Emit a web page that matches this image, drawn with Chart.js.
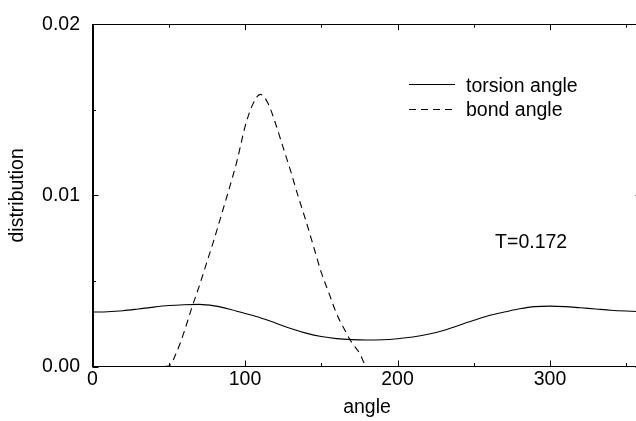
<!DOCTYPE html>
<html><head><meta charset="utf-8">
<script src="https://cdn.jsdelivr.net/npm/chart.js@4.4.1/dist/chart.umd.min.js"></script>
<style>
html,body{margin:0;padding:0;background:#fff;overflow:hidden;width:636px;height:421px}
#wrap{width:636px;height:421px;overflow:hidden;position:relative}
canvas{display:block}
</style>
</head><body><div id="wrap"><canvas id="c" width="646" height="421"></canvas></div>
<script>
// ---- data ----
const torsionAngles = [0,10,20,30,40,50,60,70,80,90,100,110,120,130,140,150,160,170,180,190,200,210,220,230,240,250,260,270,280,290,300,310,320,330,340,350,360];
const torsionValues = [0.00318,0.00320,0.00326,0.00336,0.00347,0.00356,0.00361,0.00363,0.00354,0.00335,0.00310,0.00285,0.00254,0.00222,0.00195,0.00175,0.00163,0.00157,0.00155,0.00156,0.00162,0.00172,0.00188,0.00210,0.00240,0.00270,0.00298,0.00318,0.00337,0.00350,0.00353,0.00350,0.00343,0.00336,0.00329,0.00324,0.00320];
const bondAngles = [0,45,50,55,60,65,70,75,80,85,90,95,100,105,110,115,120,125,130,135,140,145,150,155,160,165,170,175,180,185,360];
const bondValues = [0,0,0.00002,0.0008,0.0020,0.0034,0.0047,0.0061,0.0075,0.0090,0.0105,0.0121,0.0140,0.0153,0.0159,0.0154,0.0142,0.0128,0.0114,0.0099,0.0085,0.0070,0.0055,0.0043,0.0031,0.0022,0.0014,0.0008,0,0,0];
const seriesNames = ['torsion angle','bond angle'];
const xMajorTicks = [0,100,200,300];
const xTickLabels = ['0','100','200','300'];
const xMinorTicks = [50,150,250,350];
const yMajorTicks = [0,0.01,0.02];
const yTickLabels = ['0.00','0.01','0.02'];
const yMinorTicks = [0.005,0.015];
const xTitle = 'angle';
const yTitle = 'distribution';
const noteText = 'T=0.172';
const noteAt = [264, 0.00694];

const FAMILY = '"Liberation Sans", Arial, Helvetica, sans-serif';
const FSIZE = 19.5;

const frame = {
  id: 'frame',
  afterDatasetsDraw(chart) {
    const ctx = chart.ctx, a = chart.chartArea, xs = chart.scales.x, ys = chart.scales.y;
    ctx.save();
    ctx.strokeStyle = '#000'; ctx.lineWidth = 1; ctx.setLineDash([]);
    ctx.strokeRect(Math.round(a.left)+0.5, Math.round(a.top)+0.5, Math.round(a.right-a.left), Math.round(a.bottom-a.top));
    const tick = (vals, len) => {
      vals.forEach(v => {
        const px = Math.round(xs.getPixelForValue(v)) + 0.5;
        ctx.beginPath();
        ctx.moveTo(px, a.bottom); ctx.lineTo(px, a.bottom - len);
        ctx.moveTo(px, a.top); ctx.lineTo(px, a.top + len);
        ctx.stroke();
      });
    };
    const ytick = (vals, len) => {
      vals.forEach(v => {
        const py = Math.round(ys.getPixelForValue(v)) + 0.5;
        ctx.beginPath();
        ctx.moveTo(a.left, py); ctx.lineTo(a.left + len, py);
        ctx.moveTo(a.right, py); ctx.lineTo(a.right - len, py);
        ctx.stroke();
      });
    };
    tick(xMajorTicks, 6); tick(xMinorTicks, 3.5);
    ytick(yMajorTicks, 6); ytick(yMinorTicks, 3.5);

    // legend
    ctx.font = FSIZE + 'px ' + FAMILY;
    ctx.fillStyle = '#000';
    ctx.textBaseline = 'alphabetic';
    ctx.textAlign = 'left';
    const rows = [[84.5, 91.7], [109.5, 116]];
    chart.data.datasets.forEach((ds, i) => {
      const [ly, ty] = rows[i];
      ctx.save();
      ctx.strokeStyle = ds.borderColor; ctx.lineWidth = ds.borderWidth;
      ctx.setLineDash(ds.borderDash || []);
      ctx.beginPath(); ctx.moveTo(409, ly); ctx.lineTo(455, ly); ctx.stroke();
      ctx.restore();
      ctx.fillText(ds.label, 466, ty);
    });
    // annotation
    ctx.fillText(noteText, xs.getPixelForValue(noteAt[0]), ys.getPixelForValue(noteAt[1]));
    ctx.restore();
  }
};

new Chart(document.getElementById('c'), {
  type: 'line',
  data: {
    datasets: [
      { label: seriesNames[0], data: torsionAngles.map((x,i)=>({x, y: torsionValues[i]})),
        borderColor: '#000', borderWidth: 1.1, pointRadius: 0, cubicInterpolationMode: 'monotone', fill: false },
      { label: seriesNames[1], data: bondAngles.map((x,i)=>({x, y: bondValues[i]})),
        borderColor: '#000', borderWidth: 1.1, borderDash: [7,5], pointRadius: 0, cubicInterpolationMode: 'monotone', fill: false }
    ]
  },
  options: {
    responsive: false, animation: false, devicePixelRatio: 1,
    layout: { padding: { left: 0, right: 4.5, top: 23, bottom: 0 } },
    plugins: { legend: { display: false }, tooltip: { enabled: false } },
    scales: {
      x: {
        type: 'linear', min: 0, max: 360,
        afterBuildTicks: s => { s.ticks = xMajorTicks.map(v => ({ value: v })); },
        afterFit: s => { s.height = 54.5; },
        ticks: { callback: v => xTickLabels[xMajorTicks.indexOf(v)], color: '#000', padding: 1.3,
                 font: { family: FAMILY, size: FSIZE }, maxRotation: 0, autoSkip: false },
        grid: { display: false, drawTicks: false },
        border: { display: true, color: '#000', width: 1 },
        title: { display: true, text: xTitle, color: '#000', font: { family: FAMILY, size: FSIZE }, padding: { top: 0, bottom: 2.1 } }
      },
      y: {
        min: 0, max: 0.02,
        afterBuildTicks: s => { s.ticks = yMajorTicks.map(v => ({ value: v })); },
        afterFit: s => { s.width = 92.5; },
        ticks: { callback: v => yTickLabels[yMajorTicks.indexOf(v)], color: '#000', padding: 12.5,
                 font: { family: FAMILY, size: FSIZE } },
        grid: { display: false, drawTicks: false },
        border: { display: true, color: '#000', width: 1 },
        title: { display: true, text: yTitle, color: '#000', font: { family: FAMILY, size: FSIZE }, padding: { top: 6, bottom: 0 } }
      }
    }
  },
  plugins: [frame]
});
</script>
</body></html>
